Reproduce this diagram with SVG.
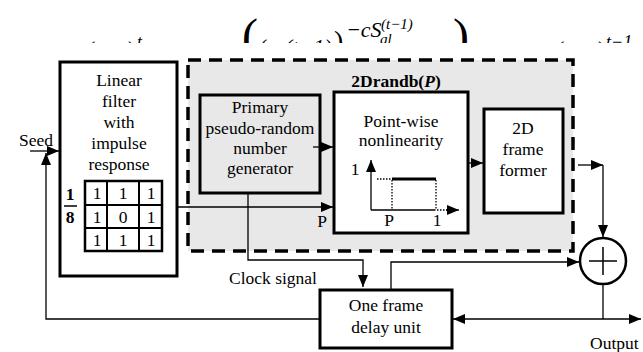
<svg xmlns="http://www.w3.org/2000/svg" width="643" height="352" viewBox="0 0 643 352">
<style>
text{font-family:"Liberation Serif","Times New Roman",serif;font-size:17.5px;fill:#000}
.c{text-anchor:middle}
.b{font-weight:bold}
.box{fill:#fff;stroke:#000;stroke-width:3}
.gbox{fill:#e8e8e8;stroke:#000;stroke-width:3}
.ln{fill:none;stroke:#000;stroke-width:1.3}
.arr{fill:none;stroke:#000;stroke-width:1.3;marker-end:url(#ah)}
.dot{fill:none;stroke:#000;stroke-width:1.3;stroke-dasharray:1.5 1.5}
.fm{font-style:italic}
</style>
<defs>
<marker id="ah" markerUnits="userSpaceOnUse" markerWidth="12" markerHeight="10" refX="12" refY="5" orient="auto">
<path d="M0,0 L12,5 L0,10 z" fill="#000"/>
</marker>
<clipPath id="topclip"><rect x="0" y="0" width="643" height="43"/></clipPath>
</defs>
<rect width="643" height="352" fill="#fff"/>

<g id="formula-fragment" clip-path="url(#topclip)">
<text x="88" y="56" style="font-size:22px">(</text>
<text x="128" y="56" style="font-size:22px">)</text>
<text x="137" y="48" class="fm" style="font-size:18px">t</text>
<text x="242" y="52" style="font-size:48px">(</text>
<text x="260" y="54" style="font-size:22px">(</text>
<text x="285" y="54" class="fm" style="font-size:22px">(t−1)</text>
<text x="334" y="50" style="font-size:28px">)</text>
<text x="346" y="37" class="fm" style="font-size:22px">−cS</text>
<text x="381" y="29" class="fm" style="font-size:15px">(t−1)</text>
<text x="380" y="44" class="fm" style="font-size:15px">gl</text>
<text x="453" y="52" style="font-size:48px">)</text>
<text x="557" y="56" style="font-size:22px">(</text>
<text x="598" y="56" style="font-size:22px">)</text>
<text x="606" y="48" class="fm" style="font-size:18px">t−1</text>
</g>

<g id="randb-group">
<rect x="188" y="60" width="385" height="191" fill="#e8e8e8" stroke="#000" stroke-width="3.5" stroke-dasharray="13 8"/>
<text x="396" y="87" class="c b">2Drandb(<tspan font-style="italic">P</tspan>)</text>
</g>

<g id="linear-filter">
<rect x="60" y="62" width="117" height="214" class="box"/>
<text x="119" y="86" class="c">Linear</text>
<text x="119" y="107" class="c">filter</text>
<text x="119" y="128" class="c">with</text>
<text x="119" y="149" class="c">impulse</text>
<text x="119" y="170" class="c">response</text>
<text x="70" y="200" class="c b">1</text>
<line x1="64" y1="206" x2="77" y2="206" stroke="#000" stroke-width="1.5"/>
<text x="70" y="223" class="c b">8</text>
<rect x="85" y="181" width="77" height="70" fill="none" stroke="#000" stroke-width="2.5"/>
<line x1="107" y1="181" x2="107" y2="251" stroke="#000" stroke-width="2"/>
<line x1="139" y1="181" x2="139" y2="251" stroke="#000" stroke-width="2"/>
<line x1="85" y1="205" x2="162" y2="205" stroke="#000" stroke-width="2"/>
<line x1="85" y1="228" x2="162" y2="228" stroke="#000" stroke-width="2"/>
<text x="97" y="199" class="c">1</text><text x="123" y="199" class="c">1</text><text x="151" y="199" class="c">1</text>
<text x="97" y="223" class="c">1</text><text x="123" y="223" class="c">0</text><text x="151" y="223" class="c">1</text>
<text x="97" y="246" class="c">1</text><text x="123" y="246" class="c">1</text><text x="151" y="246" class="c">1</text>
</g>

<g id="primary-generator">
<rect x="200" y="95" width="120" height="98" class="gbox"/>
<text x="260" y="113" class="c">Primary</text>
<text x="260" y="134" class="c">pseudo-random</text>
<text x="260" y="154" class="c">number</text>
<text x="260" y="174" class="c">generator</text>
</g>

<g id="pointwise-nonlinearity">
<rect x="334" y="92" width="134" height="141" class="box"/>
<text x="401" y="127" class="c">Point-wise</text>
<text x="401" y="146" class="c">nonlinearity</text>
<text x="355" y="175" class="c">1</text>
<line x1="371" y1="210" x2="371" y2="160" class="arr"/>
<line x1="371" y1="210" x2="434" y2="210" class="ln"/>
<line x1="434" y1="210" x2="447" y2="210" class="dot"/>
<line x1="446" y1="210" x2="459" y2="210" class="arr"/>
<line x1="377" y1="179" x2="392" y2="179" class="dot"/>
<line x1="392" y1="179" x2="436" y2="179" stroke="#000" stroke-width="3"/>
<line x1="392" y1="180" x2="392" y2="210" class="dot"/>
<line x1="436" y1="180" x2="436" y2="210" class="dot"/>
<text x="389" y="226" class="c">P</text>
<text x="437" y="226" class="c">1</text>
</g>

<g id="frame-former">
<rect x="484" y="109" width="79" height="104" class="box"/>
<text x="523" y="134" class="c">2D</text>
<text x="523" y="155" class="c">frame</text>
<text x="523" y="176" class="c">former</text>
</g>

<g id="adder">
<circle cx="603" cy="261" r="23" fill="#fff" stroke="#000" stroke-width="2.5"/>
<line x1="589" y1="261" x2="617" y2="261" stroke="#000" stroke-width="1.5"/>
<line x1="603" y1="247" x2="603" y2="275" stroke="#000" stroke-width="1.5"/>
</g>

<g id="delay-unit">
<rect x="320" y="290" width="132" height="58" class="box"/>
<text x="386" y="311" class="c">One frame</text>
<text x="386" y="333" class="c">delay unit</text>
</g>

<g id="labels">
<text x="19" y="146">Seed</text>
<text x="322" y="227" class="c">P</text>
<text x="229" y="284">Clock signal</text>
<text x="590" y="349">Output</text>
</g>

<g id="connectors">
<line x1="30" y1="151" x2="59" y2="151" class="arr"/>
<polyline points="320,319 46,319 46,153" class="arr"/>
<line x1="177" y1="207" x2="333" y2="207" class="arr"/>
<line x1="313" y1="147" x2="333" y2="147" class="arr"/>
<polyline points="248,193 248,260 363,260 363,287" class="arr"/>
<line x1="468" y1="163" x2="483" y2="163" class="arr"/>
<line x1="578" y1="165" x2="603" y2="165" class="arr"/>
<line x1="603" y1="165" x2="603" y2="237" class="arr"/>
<polyline points="391,290 391,262 579,262" class="arr"/>
<line x1="603" y1="284" x2="603" y2="319" class="ln"/>
<line x1="603" y1="319" x2="641" y2="319" class="arr"/>
<line x1="603" y1="319" x2="453" y2="319" class="arr"/>
</g>
</svg>
